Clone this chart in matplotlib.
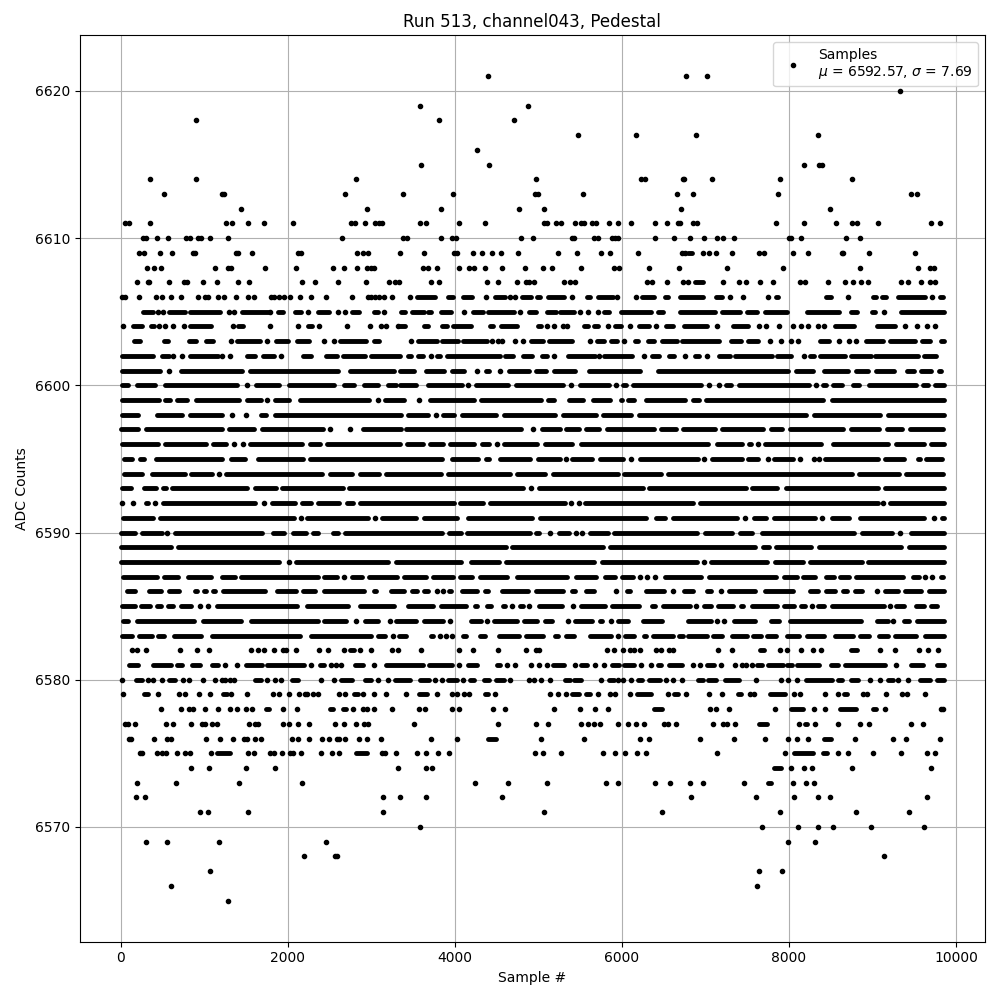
import matplotlib
matplotlib.use('Agg')
import matplotlib.pyplot as plt

# Sample numbers, one list per ADC level.
# A plain number is one visible dot, a tuple (a, b) is a row stretch where the dots touch.
adc_6621 = [4400, 6770, 7020]
adc_6620 = [9327]
adc_6619 = [3585, 4881]
adc_6618 = [904, 3813, 4713]
adc_6617 = [5469, 6165, 6891, 8343]
adc_6616 = [4269]
adc_6615 = [3597, 4413, 8175, 8355, 8391]
adc_6614 = [352, 904, 2812, 4977, 6225, 6273, 6741, 6735, 7083, 7899, 8751]
adc_6613 = [520, 1210, 1230, 2680, 3381, 3981, 4965, 5001, 5529, 6657, 6855, 7875, 9459, 9531]
adc_6612 = [1444, 2944, 3837, 4773, 5073, 6705, 8487]
adc_6611 = [48, 100, 352, 1264, 1336, 1528, 1720, 2056, 2752, 2800, 2920, 3040, 3088, 3124, 3585, 3657, 4053, 4365,
            5073, 5109, 5205, 5265, 5433, 5505, 5541, 5637, 5685, 5841, 5949, 6105, 6393, 6537, 6669, 6693, 6855,
            6903, 7851, 8175, 8559, 8751, 8811, 9063, 9699, 9807]
adc_6610 = [268, 296, 436, 568, 784, 832, 928, 964, 1072, 1288, 2644, 3381, 3429, 3837, 3969, 4017, 4797, 4941, 5397,
            5421, 5661, 5709, 5877, 5913, 5949, 6393, 6621, 6819, 6987, 7143, 7215, 7347, 7995, 8019, 8139, 8679, 8847]
adc_6609 = [220, 280, 472, 616, 868, 892, 1384, 1408, 1576, 2116, 2152, 2824, 2896, 2956, 3348, 3633, 3993, 4029,
            4221, 4329, 4449, 4557, 4761, 5229, 5457, 5745, 5853, 6189, 6717, 6753, (6789, 6839), 6975, 7047, 7131,
            7323, 7647, 7707, 8043, 8223, 8631, 8643, 8955, 9507]
adc_6608 = [316, 400, 484, 1132, 1288, 1324, 1732, 2092, 2536, 2668, 2824, 2944, 2992, 3028, 3621, 3681, 3789, 4053,
            4173, 4233, 4365, 4569, 4845, 5061, 5169, 5505, 5901, 5961, 6321, 6681, 7263, 7935, 8847, 9543, 9687, 9735]
adc_6607 = [196, 328, 340, 580, 760, 796, 988, 1156, 1408, 1540, 2164, 2320, 2596, 2932, 3208, 3280, 3328, 3717, 3813,
            4389, 4521, 4749, 4857, 4893, 4953, 5301, 5373, 5433, 6297, 6357, 6537, 6729, 6795, (6879, 6975), 7215,
            7407, 7491, 7659, 7815, 8127, 8187, 8463, 8667, 8763, 8859, 8943, 9339, 9423, 9579, 9687, 9747]
adc_6606 = [20, 56, 220, 424, 496, 604, 724, 928, 1012, 1048, 1168, 1240, 1384, 1528, 1600, 1804, 1840, 1900, 1960,
            2020, 2140, 2272, 2452, 2764, 2956, 2992, 3040, 3088, 3148, 3252, 3465, (3549, 3765), (3921, 3981),
            (4101, 4209), 4377, (4485, 4605), 4665, 4725, (4809, 4917), (4989, 5025), (5121, 5301), 5397, (5577, 5613),
            (5709, 5889), 5941, 6165, (6237, 6381), (6513, 6549), (6695, 6975), (7131, 7203), 7299, 7455, 7755,
            (7851, 7875), (8439, 8499), 8703, (9003, 9039), (9111, 9159), (9303, 9627), 9711, (9807, 9843)]
adc_6605 = [(268, 388), 448, 508, (580, 768), (828, 1188), 1300, 1360, (1456, 1768), 1792, (1888, 1948), (2080, 2156),
            2236, (2356, 2488), 2596, 2680, (2764, 2848), (3028, 3076), 3148, (3361, 3405), (3489, 3633), (3681, 3717),
            (3837, 3957), 4113, (4221, 4341), (4401, 4713), 4785, (4893, 4977), (5109, 5205), (5253, 5421), 5493, 5589,
            5709, (5781, 5841), (5985, 6345), (6429, 6489), (6693, 7119), (7203, 7419), (7503, 7623), (7719, 7971),
            (8211, 8595), (8739, 8811), (8991, 9027), 9135, (9339, 9855)]
adc_6604 = [28, (148, 256), (364, 400), 460, 532, 628, 760, (832, 1084), 1348, (1408, 1468), 1792, 2116, (2236, 2284),
            2368, 2704, 2980, 3112, 3172, 3316, (3341, 3405), (3633, 3681), (3849, 3909), (3981, 4197), (4425, 4461),
            (4557, 4749), (5001, 5037), 5109, 5193, 5289, 5337, (5541, 5589), (5661, 5709), 5829, (5913, 5985), 6093,
            (6201, 6321), 6405, (6525, 6609), (6741, 7023), 7143, (7335, 7515), 7647, 7731, 7887, 8043, 8139, 8223,
            8343, 8415, (8547, 8775), (9051, 9267), 9387, 9531, 9651, 9747]
adc_6603 = [(160, 232), (520, 568), (820, 904), (1024, 1108), 1324, (1396, 1668), 1756, (1864, 1996), (2104, 2248),
            2428, 2548, (2620, 2932), (3028, 3088), 3477, (3561, 3789), (3849, 4041), (4101, 4389), 4449, 4521, 4569,
            4725, 4821, (4917, 5061), (5133, 5397), 5613, (5697, 5781), (5865, 5937), 6021, (6153, 6189), (6309, 6381),
            (6477, 6657), (6717, 7167), (7311, 7431), (7515, 7635), 7779, 7911, 8019, 8103, (8367, 8475), 8595, 8715,
            8799, (8919, 9123), (9207, 9507), (9591, 9687), (9819, 9855)]
adc_6602 = [(20, 388), (496, 580), 628, 736, (832, 1168), 1216, 1312, (1516, 1612), (1708, 1840), 1924, (2176, 2272),
            (2452, 2584), (2656, 2920), (2992, 3348), (3441, 3477), (3561, 3621), 3717, (3789, 3825), (3909, 4545),
            (4605, 4701), (4821, 4929), (5049, 5109), 5193, (5349, 5673), 5721, (5781, 6117), 6261, (6357, 6441),
            (6561, 6621), 6755, (6879, 6927), 7023, (7167, 7299), (7359, 7803), (7863, 8019), 8175, (8247, 8295),
            (8367, 8667), (8739, 8979), (9027, 9543), (9615, 9759)]
adc_6601 = [(20, 468), 580, (720, 1456), (1548, 2604), (2748, 3276), (3341, 3509), (3653, 3869), (3965, 4109), 4261,
            (4373, 4409), 4545, (4653, 4889), (4973, 5089), (5185, 5441), (5605, 6221), (6433, 7983), (8087, 8283),
            (8419, 8711), (8807, 8943), (9047, 9263), (9415, 9495), (9587, 9703), (9799, 9815)]
adc_6600 = [(20, 84), (188, 408), (528, 1396), 1512, (1620, 1900), (2012, 2548), (2672, 2788), (2912, 3076),
            (3200, 3296), (3341, 3529), (3673, 4089), 4161, (4253, 4641), (4733, 5289), 5389, (5493, 5849), 5929,
            (6013, 6049), (6133, 6943), 7047, 7167, (7247, 7303), (7407, 8243), 8323, (8407, 8443), (8527, 8635),
            (8767, 8835), (8955, 9523), (9607, 9671), (9755, 9855)]
adc_6599 = [(20, 456), (532, 588), (668, 796), (900, 1416), (1508, 1676), 1748, (1848, 2016), (2140, 2976), 3076,
            (3160, 3389), 3573, (3705, 4229), (4313, 5037), (5121, 5189), (5365, 5529), (5653, 5857), (5985, 5997),
            (6077, 6141), (6293, 6751), (6847, 6923), (7007, 8403), (8515, 9855)]
adc_6598 = [(20, 208), (428, 736), (828, 1216), 1332, 1500, (1676, 1744), (1848, 3357), (3437, 3677), 3769,
            (3853, 3989), (4085, 4489), (4585, 5197), (5293, 5689), (5773, 6109), (6205, 8203), (8299, 9091),
            (9187, 9855)]
adc_6597 = [(8, 204), (300, 1216), (1292, 1596), (1688, 2416), 2500, 2740, (2900, 3361), (3413, 4797), 4937,
            (5045, 5253), (5333, 5489), (5573, 5729), (5821, 6381), (6473, 6649), (6733, 7111), (7199, 7691),
            (7787, 7923), (8015, 8651), (8747, 9083), (9175, 9355), (9447, 9843)]
adc_6596 = [(20, 448), (528, 1016), (1100, 1264), 1360, 1460, (1548, 2164), (2260, 2388), (2472, 3349), (3421, 3621),
            (3701, 3861), (3941, 4229), (4325, 4409), 4505, (4585, 4981), (5081, 5397), (5513, 7031), (7135, 7443),
            (7527, 7551), 7631, (7719, 8383), (8527, 9191), (9287, 9623), (9707, 9855)]
adc_6595 = [(44, 136), (228, 276), (420, 1216), (1320, 1488), (1640, 2176), (2260, 3849), (3965, 4281), (4373, 4409),
            (4541, 4901), (4993, 5257), 5325, (5405, 5641), (5733, 6009), 6109, (6221, 6915), 6987, (7079, 7435),
            (7515, 7635), 7747, (7823, 8043), 8131, 8299, 8359, (8435, 9063), (9147, 9383), (9547, 9571), (9647, 9831)]
adc_6594 = [(44, 256), (372, 764), (840, 1096), 1176, (1260, 2404), (2508, 2768), (2868, 3096), (3180, 3829),
            (3913, 4661), (4741, 5085), (5173, 5949), (6021, 6469), (6553, 8751), (8835, 9323), (9407, 9843)]
adc_6593 = [(20, 124), (280, 424), (500, 536), (612, 1516), (1612, 1856), (1928, 2656), (2732, 4821), 4913,
            (5005, 6249), (6325, 7483), (7559, 7863), (7959, 9063), (9155, 9855)]
adc_6592 = [16, 152, (300, 324), 412, (500, 1608), 1720, (1812, 2084), (2168, 2276), (2364, 2616), (2708, 2776),
            (2860, 3989), (4061, 4341), (4421, 5321), 5389, 5481, (5561, 6851), (6935, 9063), 9127, (9207, 9855)]
adc_6591 = [(32, 384), (468, 2076), 2152, (2228, 2964), 3044, (3132, 3529), (3625, 4021), (4153, 4929), (5021, 6289),
            (6413, 6517), (6613, 7375), 7479, (7579, 7723), (7827, 8311), 8391, (8515, 8723), (8847, 9615), 9735,
            (9827, 9855)]
adc_6590 = [(8, 164), (248, 496), 556, (644, 1696), (1820, 1956), (2060, 2216), (2300, 2356), (2540, 2596),
            (2680, 3849), (3925, 4069), (4141, 4901), (4973, 5009), 5141, (5245, 5361), 5449, 5521, (5621, 5829),
            (5909, 6895), (6999, 7323), (7419, 7563), (7675, 8783), (8871, 9231), 9327, (9459, 9855)]
adc_6589 = [(0, 596), (684, 4609), (4685, 5769), (5853, 7591), (7687, 7763), (7847, 8263), (8359, 9343), (9439, 9855)]
adc_6588 = [(8, 1896), 2008, (2100, 3196), (3300, 4077), (4193, 4529), (4613, 5661), (5765, 6903), 6983, (7067, 7735),
            (7839, 8163), (8247, 8871), (8947, 9855)]
adc_6587 = [(32, 436), (520, 688), (800, 1076), (1208, 1364), (1436, 2356), (2428, 2588), 2676, (2768, 2884),
            (2968, 3308), (3393, 3649), (3741, 3977), (4065, 4209), (4297, 4629), (4749, 5337), (5453, 5689),
            (5793, 5917), (5997, 6129), 6213, 6305, 6397, (6513, 6943), (7039, 7851), (7939, 8095), (8167, 8311),
            (8439, 8535), (8607, 8723), (8799, 9363), (9487, 9563), 9635, 9711, (9815, 9843)]
adc_6586 = [(80, 164), (340, 476), (580, 700), (884, 908), (1000, 1016), (1108, 1124), (1228, 1724), (1868, 2096),
            (2180, 2324), (2428, 2916), (3028, 3056), (3240, 3389), (3485, 3549), (3633, 3677), 3781, 3857,
            (3933, 3949), (4085, 4269), (4361, 4397), (4561, 4877), (4973, 5289), (5401, 5441), (5573, 5669), 5933,
            (6061, 6097), (6293, 6509), 6609, (6747, 6855), (7015, 7071), 7183, (7287, 7591), (7719, 8043),
            (8255, 8343), (8447, 8551), (8647, 8695), (8787, 8871), 9059, (9147, 9303), (9395, 9583), (9679, 9855)]
adc_6585 = [(20, 164), (240, 348), (432, 476), (568, 628), (720, 844), 948, 1048, (1148, 2108), (2228, 2724),
            (2868, 3276), (3433, 3741), (3833, 4129), (4241, 4269), (4381, 4437), (4573, 4597), 4689, (4781, 4813),
            4889, (5005, 5277), 5417, (5505, 5797), (5885, 6201), (6361, 6397), (6493, 6811), 6891, (6979, 7071),
            (7147, 7335), (7427, 7455), (7559, 7855), (7939, 8055), (8147, 8191), 8271, (8351, 8423), (8515, 9143),
            9211, (9287, 9375), (9519, 9623), (9707, 9775)]
adc_6584 = [(32, 84), (188, 876), (980, 1444), (1560, 2356), (2436, 2692), 2820, (2928, 3076), 3220, (3300, 3529),
            (3625, 3861), 3945, (4189, 4317), 4381, (4473, 4741), (4833, 4981), (5085, 5161), 5353, (5441, 5641),
            (5733, 5757), 5865, (5957, 6077), (6253, 6481), (6797, 7063), 7135, 7223, (7347, 7599), (7783, 7879),
            (8007, 8863), (9055, 9183), 9243, (9379, 9443), (9535, 9855)]
adc_6583 = [(20, 136), (212, 376), (448, 516), (632, 964), (1088, 2148), (2280, 2996), (3080, 3168), 3264,
            (3332, 3417), (3713, 3741), 3817, 3897, 3969, (4093, 4137), (4301, 4357), (4445, 4449), (4525, 4769),
            (4853, 5061), (5197, 5229), (5325, 5421), (5613, 5869), 5949, (6033, 6149), (6261, 6289), (6373, 6609),
            (6685, 6727), (6787, 7015), (7087, 7203), (7315, 7495), (7575, 7663), (7739, 7851), (7975, 8123),
            (8215, 8423), (8551, 8771), (8855, 8955), (9079, 9191), (9271, 9523), (9635, 9855)]
adc_6582 = [136, 196, 304, 712, 916, 1060, 1564, 1648, 1720, 1840, 1948, 1984, 2092, 2368, 2476, 2668, (2740, 2788),
            2860, 2992, 3244, 3316, 3597, 4053, 4221, 4521, 4857, 4977, 5013, 5817, 5901, 6009, 6093, 6141, 6213, 6405,
            6465, 6561, 6609, 7155, 7323, (7659, 7707), 7899, 7971, 8139, 8283, 8379, (8739, 8811), 9087, 9267, 9555,
            9663, 9783]
adc_6581 = [(100, 208), (388, 604), (676, 736), (856, 952), (1096, 1168), 1252, 1396, (1504, 1696), (1756, 2188), 2272,
            (2380, 2428), 2512, 2572, 2632, (2800, 2896), 3028, (3172, 3621), (3693, 3969), 4053, (4161, 4269),
            (4509, 4545), 4629, 4725, 4917, 5013, 5109, (5181, 5301), 5433, (5505, 5577), 5673, 5781, (5877, 5961),
            (6021, 6141), 6225, 6345, (6429, 6465), (6561, 6717), 6855, 6939, (7023, 7107), 7187, 7359, 7443, 7491,
            7563, (7623, 7683), (7755, 7935), (7971, 8031), (8091, 8355), (8499, 8583), (8667, 9147), 9279,
            (9459, 9603), (9771, 9855)]
adc_6580 = [16, (184, 256), 328, 388, 496, (580, 652), 748, 820, 988, 1132, 1216, 1252, 1312, 1360, (1612, 1684), 1756,
            1852, 1924, (2044, 2116), 2392, 2548, (2632, 2764), (2920, 2992), 3076, 3196, (3280, 3465), (3585, 3693),
            3765, 3849, (3921, 4029), 4101, (4185, 4233), (4353, 4413), (4497, 4593), 4665, 4893, 4953, 5037, 5145,
            (5313, 5373), (5421, 5505), 5745, (5841, 5901), 5949, 6009, 6105, (6189, 6237), (6321, 6453), 6525, 6609,
            6717, (6915, 6975), (7035, 7131), (7239, 7407), 7611, 7911, 7983, 8099, (8199, 8515), (8583, 8631),
            (8739, 8823), 8975, 9087, (9183, 9243), 9303, 9423, (9567, 9687), (9771, 9855)]
adc_6579 = [28, (280, 328), 448, 700, 772, 940, 1072, (1228, 1276), 1324, 1516, 1828, 1900, 2008, 2128, 2200, 2224,
            2296, 2356, 2608, 2680, (2788, 2836), 2896, 3028, 3172, 3417, (3573, 3669), 3789, 3969, 4029, 4113, 4173,
            (4365, 4401), 4485, 5145, 5229, 5325, (5397, 5481), (5565, 5613), 5709, 5853, 5913, 6093, (6177, 6345), 6549,
            (6621, 6669), 6771, 7047, 7203, (7395, 7431), 7539, 7587, (7779, 7947), 8055, 8127, 8427, 8583,
            (8655, 8691), 8883, 8931, 9159, 9351, 9411, 9627]
adc_6578 = [484, 724, 820, 868, 1012, 1168, 1312, 1396, 1504, 1576, (1744, 1780), 1948, 2104, (2500, 2536),
            (2656, 2692), 2776, 2896, 2944, 3028, 3244, 3573, 3645, 3969, 4053, 4461, 4605, 5193, 5493, 5673, 5829,
            (6381, 6477), 7059, 7131, 7287, 7839, (8019, 8163), 8295, 8427, (8607, 8799), (9003, 9039), 9147, 9819, 9843]
adc_6577 = [52, 88, 172, 544, 628, 844, 976, 1012, 1096, 1156, 1540, 1612, 1648, 1948, 2008, 2116, 2248, 2560, 2668,
            2812, 2908, 2956, 3513, 4521, 4977, 5121, 5505, 5589, 5661, 5733, 5949, 6069, 6165, 6261, 6501, 6549, 6645,
            7095, 7215, 7263, 7359, (7647, 7743), 8115, (8187, 8211), 8307, 8583, 8847, 8955, 9459, 9603]
adc_6576 = [100, 124, 400, 556, 604, 1024, 1192, 1348, 1480, 1516, 1612, 1684, 2044, 2116, 2248, 2404, 2488, 2584, 2608,
            2680, 2848, 2944, 3112, 3717, 4029, (4401, 4497), 5037, 5541, 6213, 6321, 6939, 7347, 7719, 7983, 8091, 8223,
            (8415, 8499), 8787, 9243, 9399, 9807]
adc_6575 = [232, 256, 436, 496, 544, 676, 772, 832, 1084, (1156, 1312), 1528, 1600, 1792, 1840, 1936, 2020, 2056, 2152,
            2392, 2524, 2608, (2812, 2944), 3124, 3160, 3292, 3549, 3657, 3801, 3933, 4965, 5061, 5265, 5769, 5913, 6033,
            6177, 6285, 7143, 7947, (8055, 8283), (8403, 8451), 8583, 8703, 9003, 9339, 9651, 9747]
adc_6574 = [844, 1060, 1504, 1852, 3316, 3657, 3729, (7827, 7911), 8019, 8175, 8271, 8751, 9699]
adc_6573 = [196, 664, 1420, 2164, 4245, 4641, 5109, 5805, 5949, 6393, 6573, 6819, 6975, 7467, (7755, 7791), 8043, 8199, 8295]
adc_6572 = [184, 292, 3136, 3345, 3657, 4569, 6825, 7611, 8055, 8343, 8487, 9651]
adc_6571 = [952, 1048, 1528, 3136, 5073, 6477, 7899, 8799, 9435]
adc_6570 = [3585, 7683, 8103, 8343, 8523, 8979, 9615]
adc_6569 = [304, 556, 1180, 2452, 7983, 8307]
adc_6568 = [2188, 2560, 2584, 9135]
adc_6567 = [1072, 7647, 7923]
adc_6566 = [604, 7623]
adc_6565 = [1288]

adc_levels = list(range(6621, 6564, -1))

fig, ax = plt.subplots(figsize=(10, 10))

dots_x = []
dots_y = []
for level in adc_levels:
    for item in globals()[f'adc_{level}']:
        if isinstance(item, tuple):
            # touching dots, drawn as one thick stroke with round ends
            ax.hlines(level, item[0], item[1], colors='k', linewidth=3.5, capstyle='round', zorder=2)
        else:
            dots_x.append(item)
            dots_y.append(level)

ax.plot(dots_x, dots_y, 'k.', label='Samples\n$\\mu$ = 6592.57, $\\sigma$ = 7.69')

ax.set_xlabel('Sample #')
ax.set_ylabel('ADC Counts')
ax.set_title('Run 513, channel043, Pedestal')
ax.grid(True)
ax.legend(loc='upper right')

fig.tight_layout()
fig.subplots_adjust(top=0.965)
fig.savefig('out.png', dpi=100)
